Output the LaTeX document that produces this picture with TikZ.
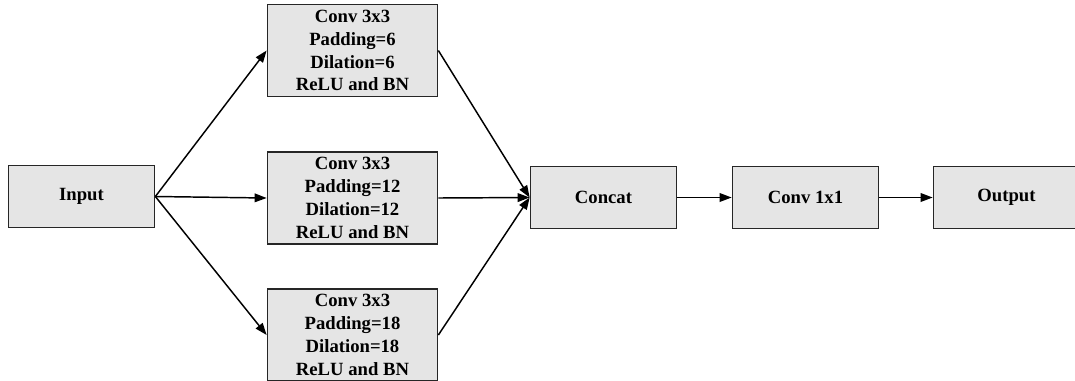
\documentclass[tikz,border=0pt]{standalone}
\usepackage{fontspec}
\setmainfont{Liberation Serif}
\usetikzlibrary{arrows.meta}
\begin{document}
\begin{tikzpicture}[x=0.75pt, y=-0.75pt,
    block/.style={draw=black!85, fill=gray!20, line width=0.8pt, inner sep=0pt,
        align=center, font=\fontsize{14}{17.2}\selectfont\bfseries},
    branch/.style={block, minimum width=128pt, minimum height=69pt},
    small/.style={block, minimum width=110pt, minimum height=46pt},
    link/.style={-{Triangle[length=9pt, width=6.5pt]}, line width=1.1pt}]
    \useasboundingbox (0,0) rectangle (1075,380);

    % Eingang und Zweige
    \node[small] (input) at (81.5,196.5) {Input};
    \node[branch] (rate6) at (352.5,50.5) {Conv 3x3\\Padding=6\\Dilation=6\\ReLU and BN};
    \node[branch] (rate12) at (352.5,198) {Conv 3x3\\Padding=12\\Dilation=12\\ReLU and BN};
    \node[branch] (rate18) at (352.5,335) {Conv 3x3\\Padding=18\\Dilation=18\\ReLU and BN};

    % Zusammenfuehrung
    \node[small] (concat) at (603.5,197.5) {Concat};
    \node[small] (conv1) at (805.5,197.5) {Conv 1x1};
    \node[small] (output) at (1006.5,197.5) {Output};

    % Verbindungen
    \foreach \b in {rate6, rate12, rate18} {
        \draw[link] (input.east) -- (\b.west);
        \draw[link] (\b.east) -- (concat.west);
    }
    \draw[link] (concat) -- (conv1);
    \draw[link] (conv1) -- (output);
\end{tikzpicture}
\end{document}
